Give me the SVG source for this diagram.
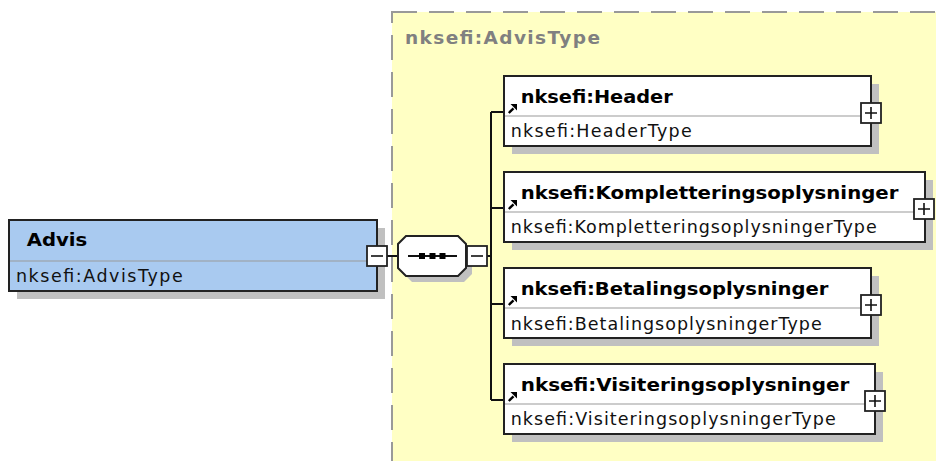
<svg xmlns="http://www.w3.org/2000/svg" xmlns:xlink="http://www.w3.org/1999/xlink" width="936" height="461" viewBox="0 0 936 461">
<style>
.bg{fill:#fff}
.area{fill:#FFFFC4;stroke:#999;stroke-width:2;stroke-dasharray:25 12}
.shadow{fill:#C0C0C0;stroke:none}
.box{fill:#fff;stroke:#222;stroke-width:2}
.gbox{fill:#A9CAF0;stroke:#222;stroke-width:2}
.div{stroke:#999;stroke-width:1.2;fill:none}
.btn{fill:#fff;stroke:#222;stroke-width:1.8}
.sign{stroke:#111;stroke-width:1.6;fill:none}
.con{stroke:#111;stroke-width:2;fill:none}
.title{font-family:"DejaVu Sans",Verdana,sans-serif;font-weight:bold;font-size:18.5px;fill:#000}
.type{font-family:"DejaVu Sans",Verdana,sans-serif;font-size:17.5px;fill:#111}
.atitle{font-family:"DejaVu Sans",Verdana,sans-serif;font-weight:bold;font-size:18.5px;fill:#808080}
</style>
<defs>
<g id="ref">
<path d="M0.8,9 L5.5,4.3" stroke="#000" stroke-width="2.4" fill="none"/>
<path d="M2.5,0 L9,0 L9,6.5 Z" fill="#000"/>
</g>
<g id="plus">
<rect class="btn" x="0" y="0" width="20" height="20"/>
<path class="sign" d="M4,10 H16 M10,4 V16"/>
</g>
<g id="minus">
<rect class="btn" x="0" y="0" width="20" height="20"/>
<path class="sign" d="M4,10 H16"/>
</g>
</defs>
<rect class="bg" x="0" y="0" width="936" height="461"/>
<g id="complexType">
<rect class="area" x="392" y="12" width="580" height="480"/>
<text class="atitle" x="405" y="43.5" textLength="195" lengthAdjust="spacing">nksefi:AdvisType</text>
</g>
<g id="connectors">
<path class="con" d="M387,256 H398"/>
<path class="con" d="M487,256 H491"/>
<path class="con" d="M491,112 V400"/>
<path class="con" d="M491,112 H504 M491,208 H504 M491,304 H504 M491,400 H504"/>
</g>
<g id="advis">
<rect class="shadow" x="17" y="228" width="368" height="71"/>
<rect class="gbox" x="9" y="220" width="368" height="71"/>
<path class="div" d="M10,261 H376"/>
<text class="title" x="26.7" y="246" textLength="60.6" lengthAdjust="spacingAndGlyphs">Advis</text>
<text class="type" x="16" y="282" textLength="166.7" lengthAdjust="spacing">nksefi:AdvisType</text>
<use xlink:href="#minus" x="367" y="246"/>
</g>
<g id="sequence">
<polygon class="shadow" points="412,242 464,242 472,250 472,274 464,282 412,282 404,274 404,250"/>
<polygon class="box" points="406,236 458,236 466,244 466,268 458,276 406,276 398,268 398,244"/>
<path class="con" d="M408,256 H457"/>
<rect x="419" y="253" width="6" height="6" fill="#000"/>
<rect x="429.5" y="253" width="6" height="6" fill="#000"/>
<rect x="439.5" y="253" width="6" height="6" fill="#000"/>
<use xlink:href="#minus" x="467" y="246"/>
</g>
<g id="header">
<rect class="shadow" x="512" y="84" width="367" height="70"/>
<rect class="box" x="504" y="76" width="367" height="70"/>
<path class="div" d="M505,116 H870"/>
<use xlink:href="#ref" x="508" y="104"/>
<text class="title" x="520.7" y="103.3" textLength="152" lengthAdjust="spacingAndGlyphs">nksefi:Header</text>
<text class="type" x="510.7" y="136.7" textLength="181" lengthAdjust="spacing">nksefi:HeaderType</text>
<use xlink:href="#plus" x="861" y="103"/>
</g>
<g id="kompletteringsoplysninger">
<rect class="shadow" x="512" y="180" width="421" height="70"/>
<rect class="box" x="504" y="172" width="421" height="70"/>
<path class="div" d="M505,212 H924"/>
<use xlink:href="#ref" x="508" y="200"/>
<text class="title" x="520.7" y="199.3" textLength="377.7" lengthAdjust="spacingAndGlyphs">nksefi:Kompletteringsoplysninger</text>
<text class="type" x="510.7" y="232.7" textLength="366" lengthAdjust="spacing">nksefi:KompletteringsoplysningerType</text>
<use xlink:href="#plus" x="914" y="199"/>
</g>
<g id="betalingsoplysninger">
<rect class="shadow" x="512" y="276" width="367" height="70"/>
<rect class="box" x="504" y="268" width="367" height="70"/>
<path class="div" d="M505,308 H870"/>
<use xlink:href="#ref" x="508" y="296"/>
<text class="title" x="520.7" y="295.3" textLength="307.7" lengthAdjust="spacingAndGlyphs">nksefi:Betalingsoplysninger</text>
<text class="type" x="510.7" y="329.5" textLength="311" lengthAdjust="spacing">nksefi:BetalingsoplysningerType</text>
<use xlink:href="#plus" x="861" y="295"/>
</g>
<g id="visiteringsoplysninger">
<rect class="shadow" x="512" y="372" width="371" height="70"/>
<rect class="box" x="504" y="364" width="371" height="70"/>
<path class="div" d="M505,404 H874"/>
<use xlink:href="#ref" x="508" y="392"/>
<text class="title" x="520.7" y="391.3" textLength="328.7" lengthAdjust="spacingAndGlyphs">nksefi:Visiteringsoplysninger</text>
<text class="type" x="510.7" y="424.7" textLength="325" lengthAdjust="spacing">nksefi:VisiteringsoplysningerType</text>
<use xlink:href="#plus" x="865" y="391"/>
</g>
</svg>
